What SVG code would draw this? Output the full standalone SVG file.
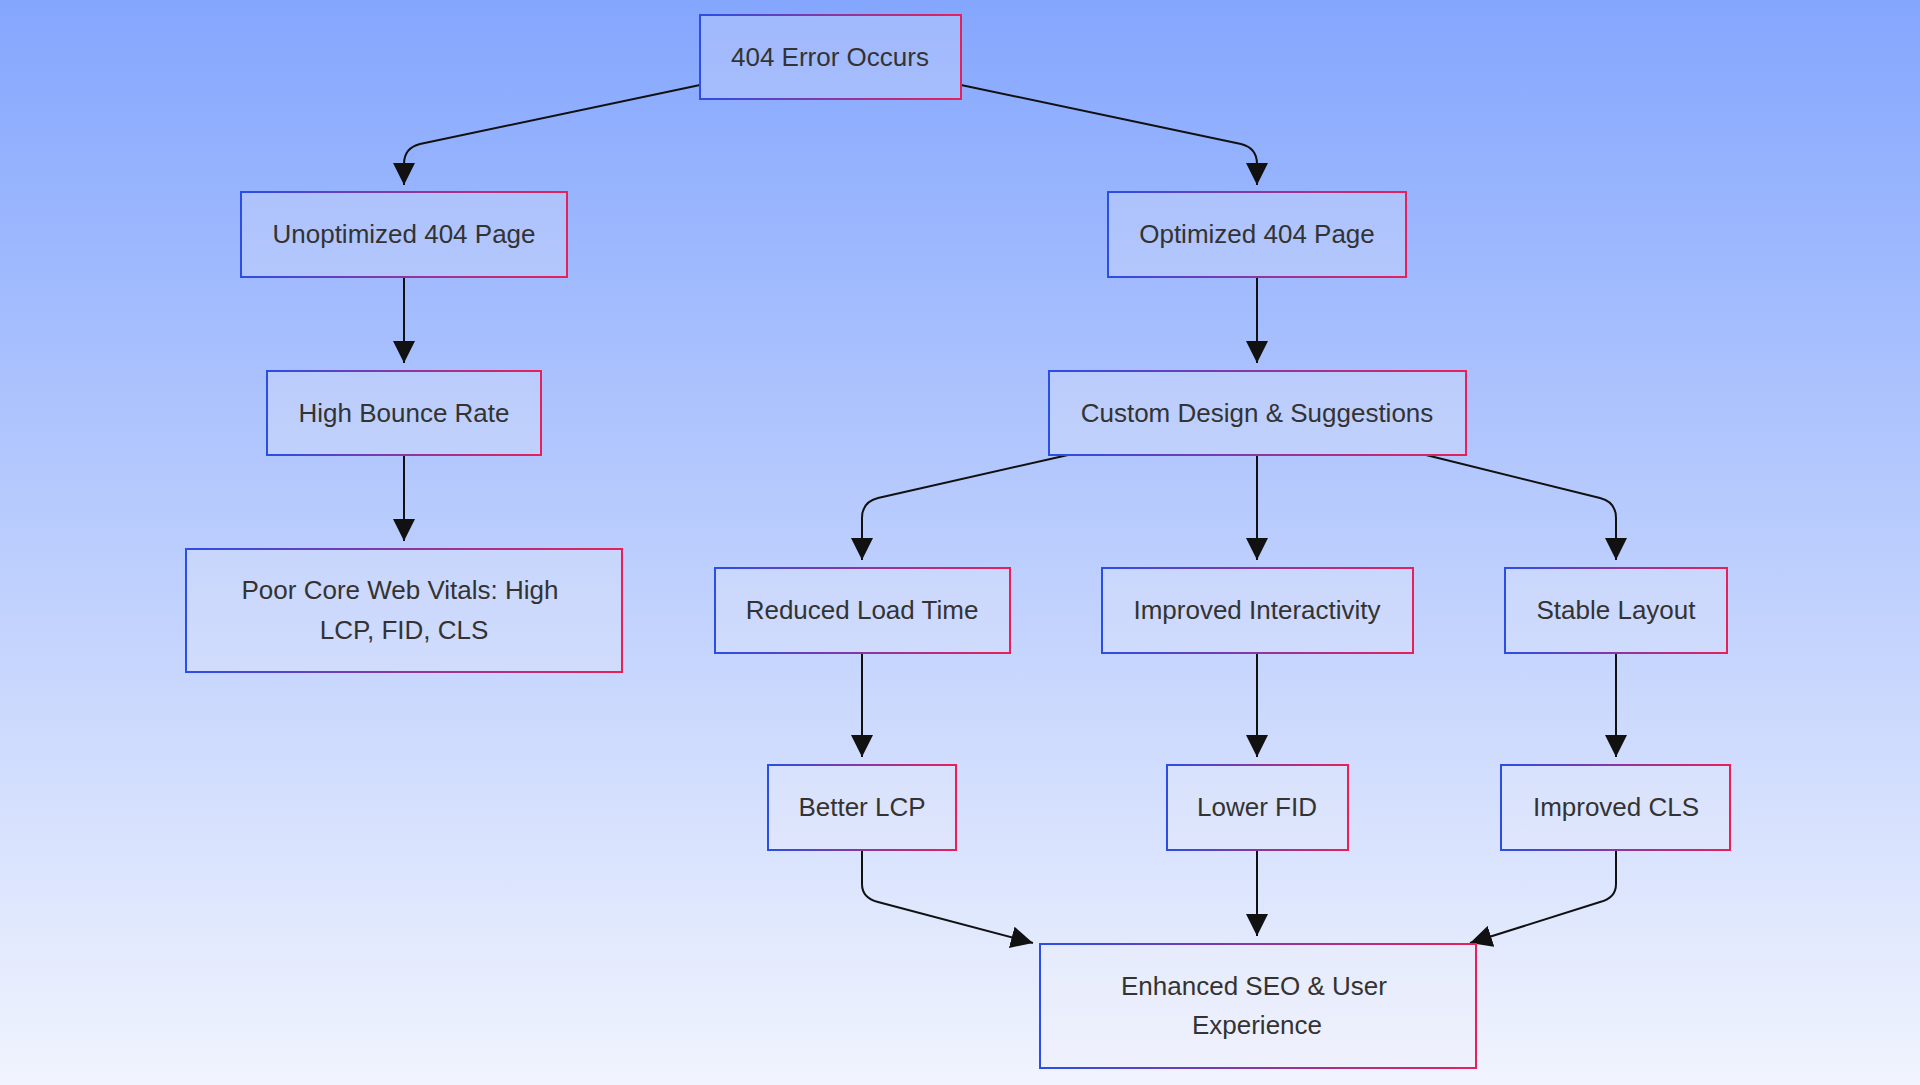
<svg xmlns="http://www.w3.org/2000/svg" width="1920" height="1085" viewBox="0 0 1920 1085">
<defs>
<linearGradient id="bg" x1="0" y1="0" x2="0" y2="1"><stop offset="0" stop-color="#84a6fd"/><stop offset="1" stop-color="#f1f4fd"/></linearGradient>
<linearGradient id="st" x1="0" y1="0" x2="1" y2="0"><stop offset="0" stop-color="#2a4ee6"/><stop offset="1" stop-color="#e8205a"/></linearGradient>
<marker id="a" viewBox="0 0 10 10" refX="10" refY="5" markerWidth="22" markerHeight="22" markerUnits="userSpaceOnUse" orient="auto"><path d="M0,0L10,5L0,10z" fill="#111"/></marker>
</defs>
<style>
.n rect{fill:#eef1fc;fill-opacity:0.25;stroke:url(#st);stroke-width:2}
.n text{font-family:"Liberation Sans",Arial,sans-serif;font-size:26px;fill:#333;text-anchor:middle}
#edges path{fill:none;stroke:#111;stroke-width:2;marker-end:url(#a)}
</style>
<rect width="1920" height="1085" fill="url(#bg)"/>
<g id="edges">
<path d="M700,85 L420,144 Q404,148 404,164 L404,185"/>
<path d="M961,85 L1241,144 Q1257,148 1257,164 L1257,185"/>
<path d="M404,277 L404,363"/>
<path d="M1257,277 L1257,363"/>
<path d="M404,455 L404,541"/>
<path d="M1068,455 L878,498 Q862,502 862,518 L862,560"/>
<path d="M1257,455 L1257,560"/>
<path d="M1426,455 L1600,498 Q1616,502 1616,518 L1616,560"/>
<path d="M862,653 L862,757"/>
<path d="M1257,653 L1257,757"/>
<path d="M1616,653 L1616,757"/>
<path d="M862,850 L862,884 Q862,898 878,902 L1033,943"/>
<path d="M1257,850 L1257,936"/>
<path d="M1616,850 L1616,884 Q1616,898 1600,902 L1470,943"/>
</g>
<g id="n1" class="n"><rect x="700" y="15" width="261" height="84"/><text x="830" y="66">404 Error Occurs</text></g>
<g id="n2" class="n"><rect x="241" y="192" width="326" height="85"/><text x="404" y="243">Unoptimized 404 Page</text></g>
<g id="n3" class="n"><rect x="1108" y="192" width="298" height="85"/><text x="1257" y="243">Optimized 404 Page</text></g>
<g id="n4" class="n"><rect x="267" y="371" width="274" height="84"/><text x="404" y="422">High Bounce Rate</text></g>
<g id="n5" class="n"><rect x="1049" y="371" width="417" height="84"/><text x="1257" y="422">Custom Design &amp; Suggestions</text></g>
<g id="n6" class="n"><rect x="186" y="549" width="436" height="123"/><text x="400" y="599">Poor Core Web Vitals: High</text><text x="404" y="639">LCP, FID, CLS</text></g>
<g id="n7" class="n"><rect x="715" y="568" width="295" height="85"/><text x="862" y="619">Reduced Load Time</text></g>
<g id="n8" class="n"><rect x="1102" y="568" width="311" height="85"/><text x="1257" y="619">Improved Interactivity</text></g>
<g id="n9" class="n"><rect x="1505" y="568" width="222" height="85"/><text x="1616" y="619">Stable Layout</text></g>
<g id="n10" class="n"><rect x="768" y="765" width="188" height="85"/><text x="862" y="816">Better LCP</text></g>
<g id="n11" class="n"><rect x="1167" y="765" width="181" height="85"/><text x="1257" y="816">Lower FID</text></g>
<g id="n12" class="n"><rect x="1501" y="765" width="229" height="85"/><text x="1616" y="816">Improved CLS</text></g>
<g id="n13" class="n"><rect x="1040" y="944" width="436" height="124"/><text x="1254" y="995">Enhanced SEO &amp; User</text><text x="1257" y="1034">Experience</text></g>
</svg>
